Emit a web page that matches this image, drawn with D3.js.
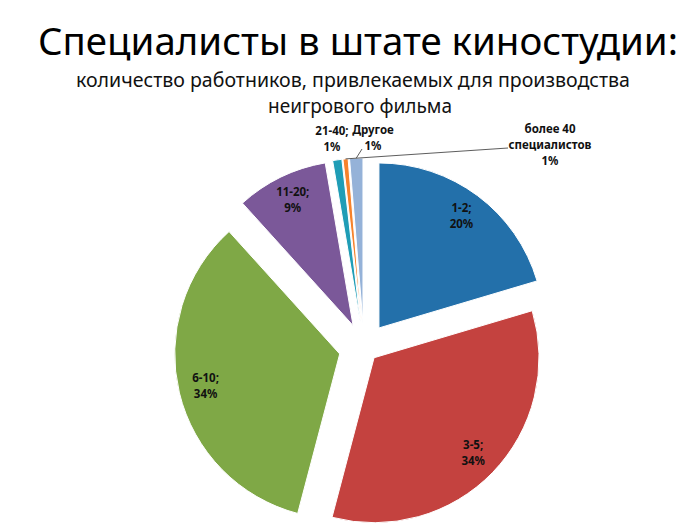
<!DOCTYPE html>
<html>
<head>
<meta charset="utf-8">
<script src="https://cdn.jsdelivr.net/npm/d3@7"></script>
<style>
  body { margin: 0; background: #fff; }
  text { font-family: "Noto Sans", "DejaVu Sans", sans-serif; }
</style>
</head>
<body>
<svg id="chart" width="700" height="527"></svg>
<script>
// данные (доли в процентах)
var categories = ["1-2", "3-5", "6-10", "11-20", "21-40", "более 40 специалистов", "Другое"];
var shares = [20.4, 33.7, 34.2, 9.0, 0.9, 0.5, 1.3];

var colors = ["#2370aa", "#c4423f", "#7fa846", "#7b5899", "#1f9db6", "#f6822b", "#95b2d8"];
var explode = [25, 14, 25, 25, 25, 25, 25];

var width = 700, height = 527;
var cx = 364, cy = 348, radius = 165;

var svg = d3.select("#chart");

// заголовок
svg.append("text")
    .text("Специалисты в штате киностудии:")
    .attr("x", 358)
    .attr("y", 55)
    .attr("text-anchor", "middle")
    .attr("font-size", 39)
    .attr("textLength", 640)
    .attr("lengthAdjust", "spacingAndGlyphs")
    .attr("fill", "#000");

svg.append("text")
    .text("количество работников, привлекаемых для производства")
    .attr("x", 353)
    .attr("y", 87)
    .attr("text-anchor", "middle")
    .attr("font-size", 20)
    .attr("textLength", 554)
    .attr("lengthAdjust", "spacingAndGlyphs")
    .attr("fill", "#111");

svg.append("text")
    .text("неигрового фильма")
    .attr("x", 360)
    .attr("y", 113)
    .attr("text-anchor", "middle")
    .attr("font-size", 20)
    .attr("textLength", 184)
    .attr("lengthAdjust", "spacingAndGlyphs")
    .attr("fill", "#111");

var rows = categories.map(function(name, i) {
    return {name: name, value: shares[i], color: colors[i], explode: explode[i], index: i};
});

var pie = d3.pie()
    .sort(null)
    .value(function(d) { return d.value; });

var arcs = pie(rows);

var arc = d3.arc().innerRadius(0).outerRadius(radius);
var labelArc = d3.arc().innerRadius(138).outerRadius(138);
var edgeArc = d3.arc().innerRadius(radius).outerRadius(radius);

function shift(d) {
    var mid = (d.startAngle + d.endAngle) / 2;
    return [Math.sin(mid) * d.data.explode, -Math.cos(mid) * d.data.explode];
}

var g = svg.append("g").attr("transform", "translate(" + cx + "," + cy + ")");

g.selectAll("path.slice")
    .data(arcs)
    .enter()
    .append("path")
    .attr("class", "slice")
    .attr("d", arc)
    .attr("transform", function(d) {
        var s = shift(d);
        return "translate(" + s[0] + "," + s[1] + ")";
    })
    .attr("fill", function(d) { return d.data.color; })
    .attr("stroke", "#fff")
    .attr("stroke-width", 1);

function pctText(v) {
    return Math.round(v) + "%";
}

// подписи внутри крупных секторов
var bigArcs = arcs.filter(function(d) { return d.data.value >= 5; });
bigArcs.forEach(function(d) {
    var s = shift(d);
    var c = labelArc.centroid(d);
    var x = c[0] + s[0], y = c[1] + s[1];
    var t = g.append("text")
        .attr("text-anchor", "middle")
        .attr("font-size", 11.5)
        .attr("font-weight", "bold")
        .attr("fill", "#111");
    t.append("tspan").attr("x", x).attr("y", y - 5).text(d.data.name + ";");
    t.append("tspan").attr("x", x).attr("y", y + 11).text(pctText(d.data.value));
});

// подписи мелких секторов снаружи
var outsideLabels = {
    4: {x: 332, y: 135, lines: ["21-40;"], leader: null},
    5: {x: 550, y: 133, lines: ["более 40", "специалистов"], leader: [508, 148]},
    6: {x: 373, y: 134, lines: ["Другое"], leader: [362, 149]}
};

arcs.filter(function(d) { return d.data.value < 5; }).forEach(function(d) {
    var lab = outsideLabels[d.data.index];
    var s = shift(d);
    if (lab.leader) {
        var e = edgeArc.centroid(d);
        svg.append("line")
            .attr("x1", lab.leader[0])
            .attr("y1", lab.leader[1])
            .attr("x2", cx + e[0] + s[0])
            .attr("y2", cy + e[1] + s[1])
            .attr("stroke", "#333")
            .attr("stroke-width", 0.8);
    }
    var t = svg.append("text")
        .attr("text-anchor", "middle")
        .attr("font-size", 11.5)
        .attr("font-weight", "bold")
        .attr("fill", "#111");
    var lines = lab.lines.concat([pctText(d.data.value)]);
    lines.forEach(function(line, k) {
        t.append("tspan").attr("x", lab.x).attr("y", lab.y + k * 16).text(line);
    });
});
</script>
</body>
</html>
